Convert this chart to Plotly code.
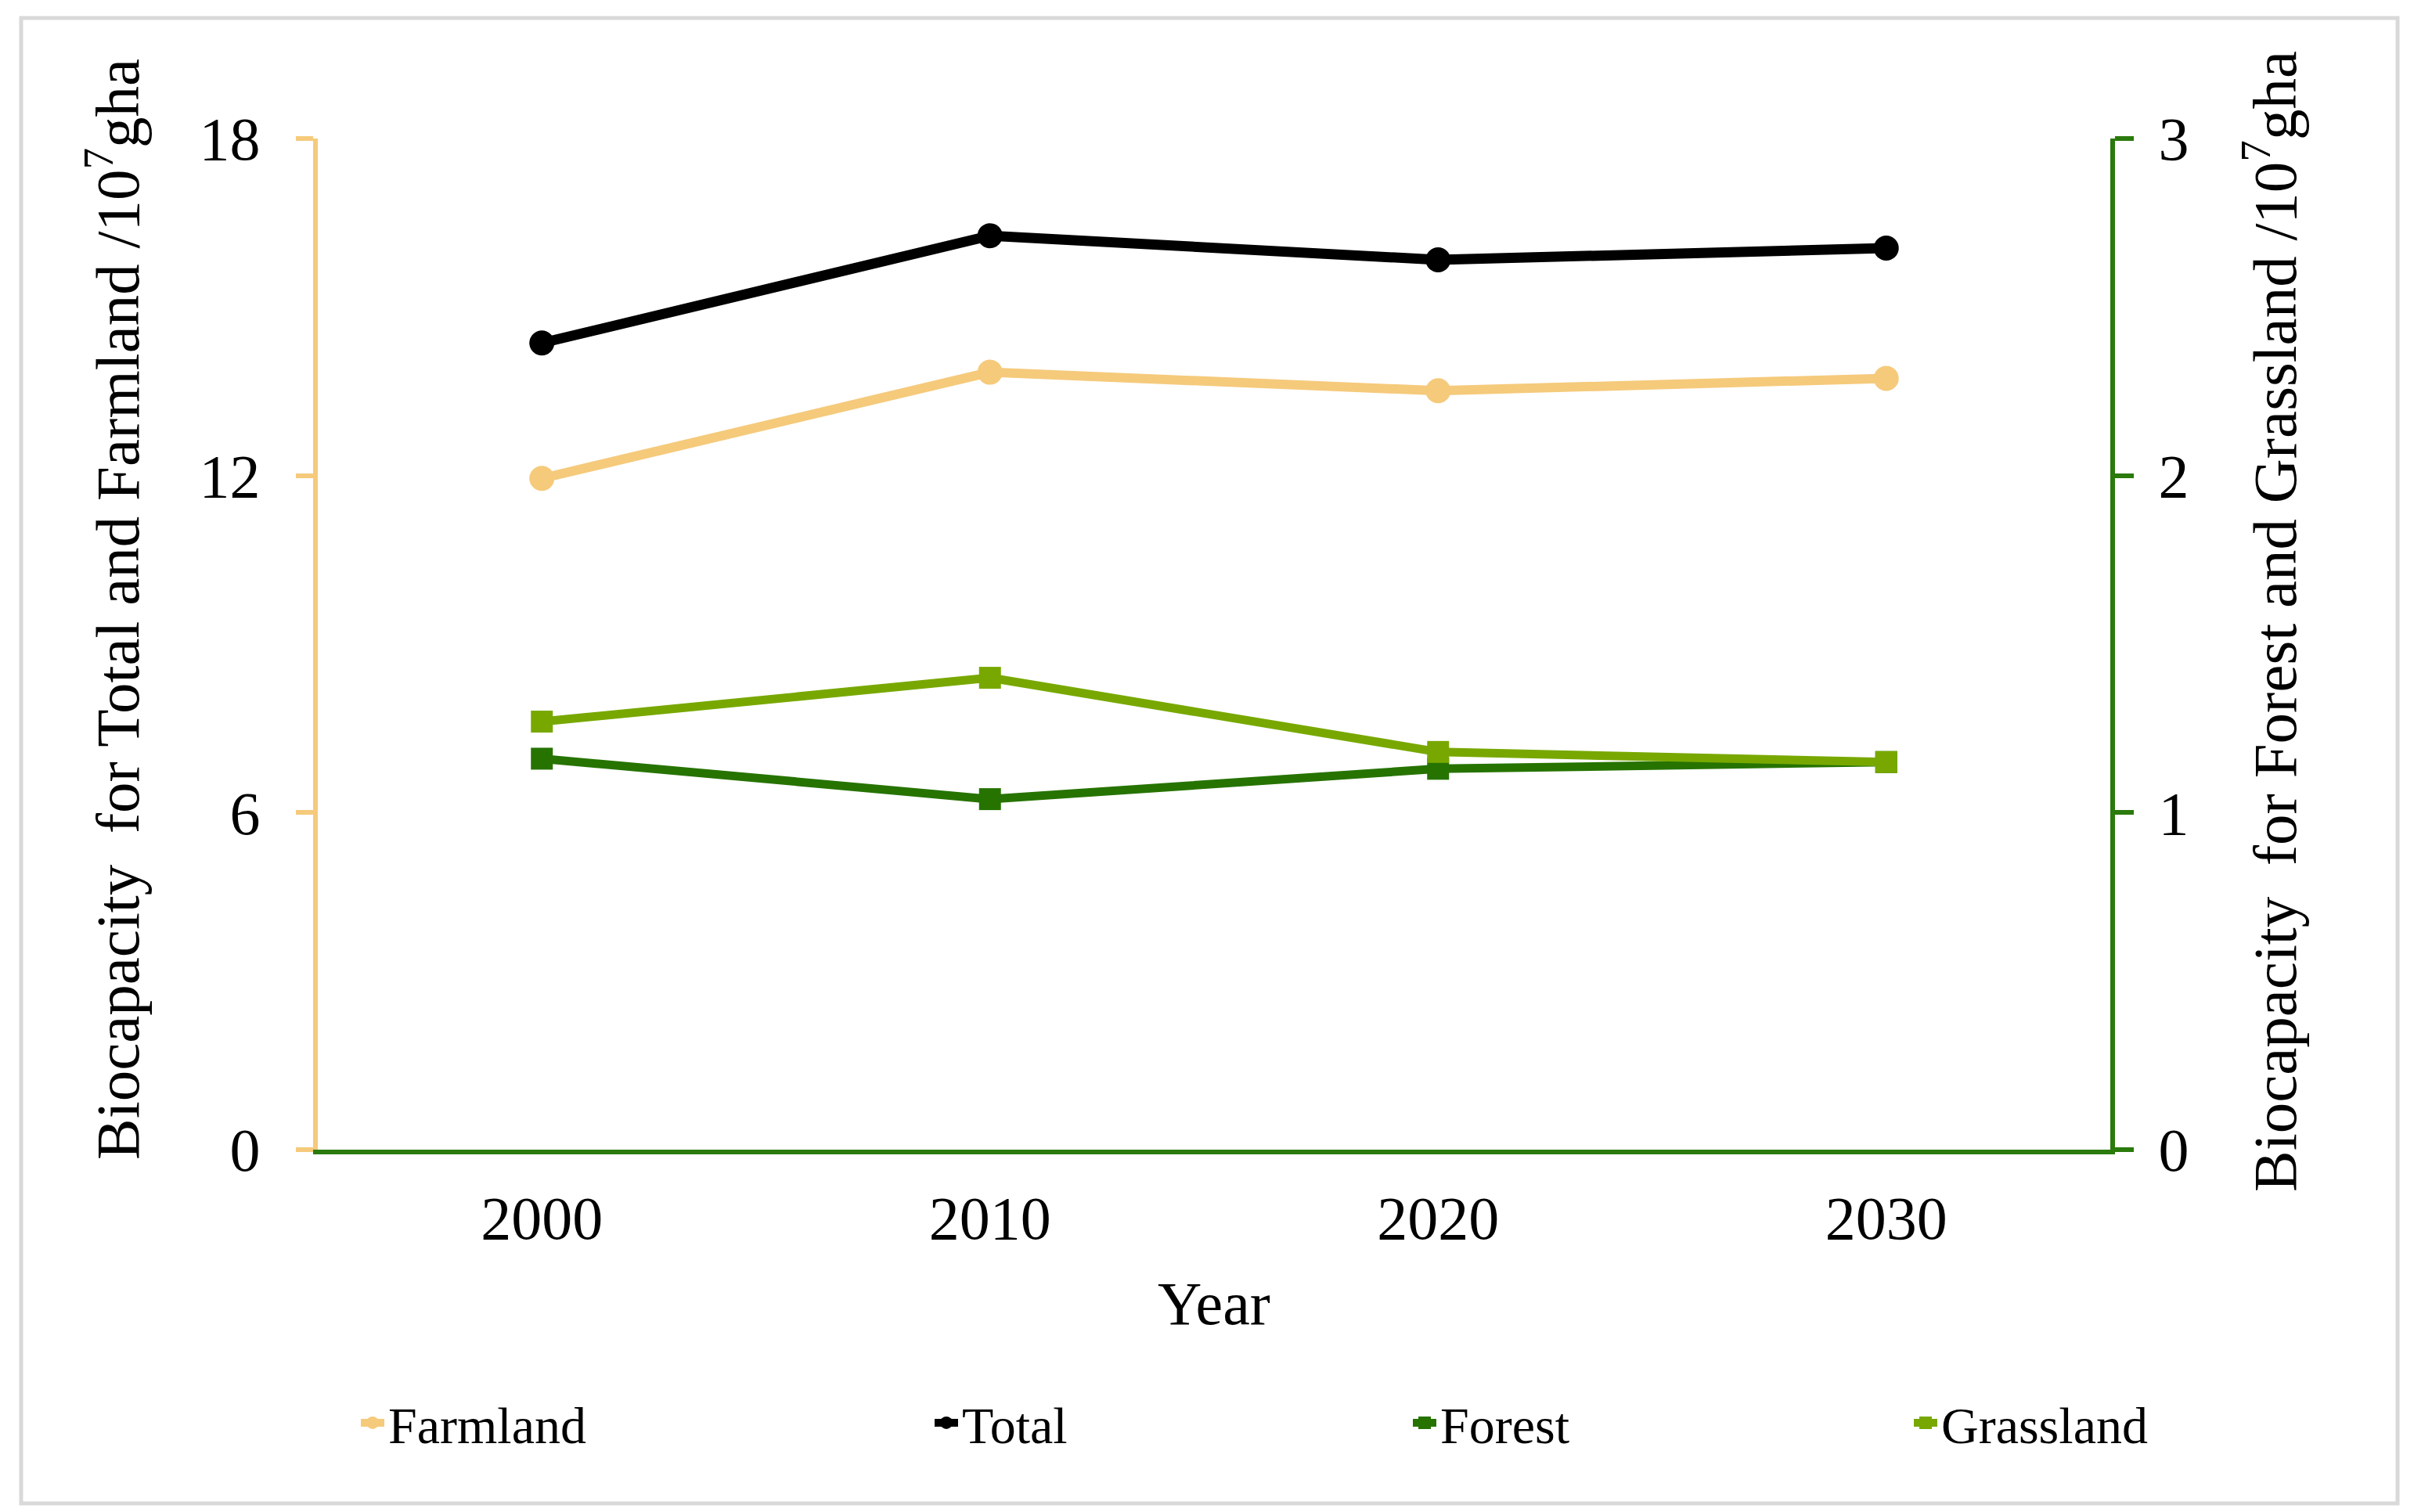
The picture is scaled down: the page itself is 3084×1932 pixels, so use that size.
import plotly.graph_objects as go

years = ["2000", "2010", "2020", "2030"]
farmland = [11.95, 13.84, 13.51, 13.73]
total = [14.36, 16.27, 15.84, 16.05]
forest = [1.16, 1.04, 1.13, 1.15]
grassland = [1.27, 1.40, 1.18, 1.15]

left_ticks = [0, 6, 12, 18]
right_ticks = [0, 1, 2, 3]

FONT = "Liberation Serif, Times New Roman, serif"
C_FARM = "#F5CA7B"
C_TOTAL = "#000000"
C_FOREST = "#267300"
C_GRASS = "#78A800"
C_AXIS_G = "#2A7A0C"

W, H = 3084, 1932
L, R, T, B = 398, 2688, 169, 1461

fig = go.Figure()
fig.add_trace(go.Scatter(x=years, y=farmland, name="Farmland", mode="lines+markers",
                         line=dict(color=C_FARM, width=12),
                         marker=dict(symbol="circle", size=32, color=C_FARM),
                         legend="legend"))
fig.add_trace(go.Scatter(x=years, y=total, name="Total", mode="lines+markers",
                         line=dict(color=C_TOTAL, width=13),
                         marker=dict(symbol="circle", size=32, color=C_TOTAL),
                         legend="legend2"))
fig.add_trace(go.Scatter(x=years, y=forest, name="Forest", mode="lines+markers",
                         line=dict(color=C_FOREST, width=11),
                         marker=dict(symbol="square", size=28, color=C_FOREST),
                         yaxis="y2", legend="legend3"))
fig.add_trace(go.Scatter(x=years, y=grassland, name="Grassland", mode="lines+markers",
                         line=dict(color=C_GRASS, width=11),
                         marker=dict(symbol="square", size=28, color=C_GRASS),
                         yaxis="y2", legend="legend4"))

def px_x(p):
    return (p - L) / (R - L)

def px_y(p):
    return (B - p) / (B - T)

leg_y = px_y(1810)
leg_common = dict(orientation="h", yanchor="middle", y=leg_y, xanchor="left",
                  font=dict(family=FONT, size=66, color="#000"),
                  bgcolor="rgba(0,0,0,0)", borderwidth=0)

fig.update_layout(
    width=W, height=H,
    margin=dict(l=L, r=W - R, t=T, b=H - B, pad=0),
    paper_bgcolor="white", plot_bgcolor="white",
    font=dict(family=FONT, size=78, color="#000"),
    showlegend=True,
    legend=dict(x=px_x(498 - 50), **leg_common),
    legend2=dict(x=px_x(1231 - 50), **leg_common),
    legend3=dict(x=px_x(1842 - 50), **leg_common),
    legend4=dict(x=px_x(2482 - 50), **leg_common),
    xaxis=dict(type="category", range=[-0.5, 3.5], showgrid=False, zeroline=False,
               showline=True, linecolor=C_AXIS_G, linewidth=6, ticks="",
               tickfont=dict(family=FONT, size=78, color="#000"),
               ticklabelstandoff=14),
    yaxis=dict(range=[0, 18], tickvals=left_ticks, showgrid=False, zeroline=False,
               showline=True, linecolor=C_FARM, linewidth=6,
               ticks="outside", ticklen=22, tickwidth=6, tickcolor=C_FARM,
               tickfont=dict(family=FONT, size=78, color="#000"),
               ticklabelstandoff=30),
    yaxis2=dict(range=[0, 3], tickvals=right_ticks, overlaying="y", side="right",
                showgrid=False, zeroline=False,
                showline=True, linecolor=C_AXIS_G, linewidth=6,
                ticks="outside", ticklen=24, tickwidth=6, tickcolor=C_AXIS_G,
                tickfont=dict(family=FONT, size=78, color="#000"),
                ticklabelstandoff=16),
    annotations=[
        dict(text="Year", x=0.5, y=px_y(1657), xref="paper", yref="paper",
             xanchor="center", yanchor="middle", showarrow=False,
             font=dict(family=FONT, size=78, color="#000")),
        dict(text="Biocapacity  for Total and Farmland /10<sup>7</sup>gha",
             x=px_x(136), y=px_y(771), xref="paper", yref="paper",
             xanchor="center", yanchor="middle", textangle=-90, showarrow=False,
             font=dict(family=FONT, size=79, color="#000")),
        dict(text="Biocapacity  for Forest and Grassland /10<sup>7</sup>gha",
             x=px_x(2892), y=px_y(786), xref="paper", yref="paper",
             xanchor="center", yanchor="middle", textangle=-90, showarrow=False,
             font=dict(family=FONT, size=79, color="#000")),
    ],
    shapes=[
        dict(type="rect", xref="paper", yref="paper",
             x0=px_x(19), x1=px_x(3055), y0=px_y(1913), y1=px_y(15),
             line=dict(color="#D9D9D9", width=5), fillcolor="rgba(0,0,0,0)",
             layer="below"),
    ],
)

fig.write_html("out.html")
